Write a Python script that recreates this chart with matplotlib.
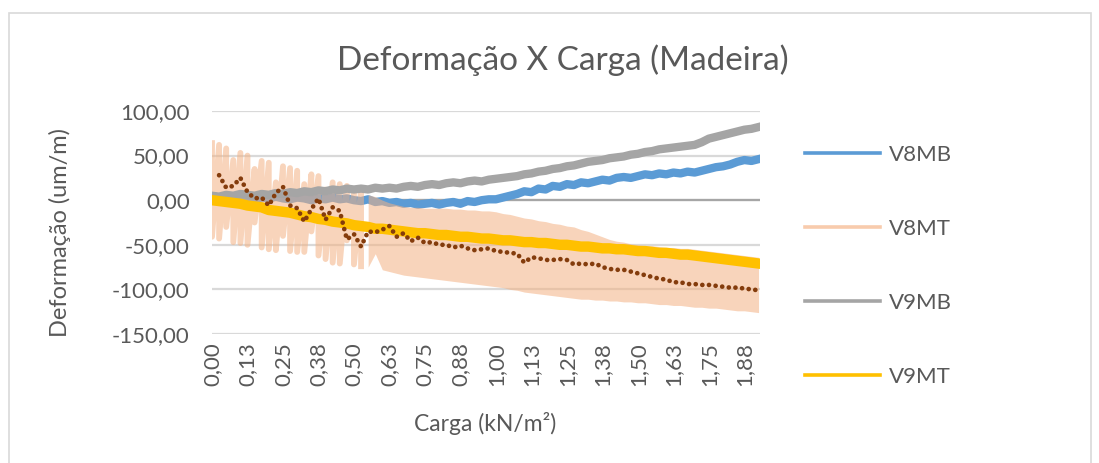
import numpy as np
import matplotlib
matplotlib.use("Agg")
import matplotlib.pyplot as plt
from matplotlib.lines import Line2D
from matplotlib.patches import Rectangle

plt.rcParams["font.family"] = ["Lato", "DejaVu Sans"]

# carga aplicada (kN/m²), passo de 0,025
carga = np.round(np.arange(0, 1.95, 0.025), 3)

v8mb = [4, 3, 5, 2, 4, 3, 1, 3, 2, 4, 2, 1, 3, 2, 0, 2, 1, 3, 1, 2,
        0, -1, 1, -2, -1, -3, -2, -4, -3, -5, -4, -3, -5, -3, -2, -4, -1, -2, 0, 1,
        1, 3, 5, 7, 10, 9, 13, 12, 16, 15, 18, 17, 20, 19, 21, 23, 22, 25, 26, 25,
        27, 29, 28, 30, 29, 31, 30, 32, 31, 33, 35, 37, 38, 40, 43, 45, 44, 46]

# V8MT oscila entre um valor alto e um baixo a cada leitura
v8mt_alto = [64, 62, 58, 45, 53, 50, 35, 44, 42, 20, 38, 36, 33, 18, 29, 27, 12, 20, 18, 16,
             8, 12, 6, 4, 0, -3, -5, -7, -8, -8, -9, -9, -9, -9, -10, -10, -11, -11, -12, -12,
             -13, -15, -16, -18, -20, -21, -23, -24, -26, -27, -29, -30, -33, -35, -38, -41, -44, -46, -47, -49,
             -50, -51, -51, -52, -53, -53, -54, -54, -55, -56, -57, -58, -59, -60, -61, -62, -63, -64]
v8mt_baixo = [-41, -43, -30, -47, -48, -50, -25, -53, -55, -56, -40, -57, -58, -58, -35, -62, -66, -70, -71, -45,
              -72, -74, -75, -60, -78, -80, -82, -84, -85, -86, -87, -88, -89, -90, -91, -92, -93, -94, -95, -96,
              -97, -98, -100, -101, -103, -104, -105, -106, -107, -108, -109, -110, -111, -111, -112, -112, -113, -113, -114, -114,
              -115, -115, -116, -117, -117, -118, -118, -119, -120, -120, -121, -121, -122, -123, -124, -124, -125, -126]

v9mb = [5, 4, 6, 5, 7, 6, 5, 7, 6, 8, 7, 9, 8, 10, 9, 11, 10, 12, 11, 13,
        12, 13, 12, 14, 13, 14, 13, 15, 16, 15, 17, 18, 17, 19, 20, 19, 21, 22, 21, 23,
        24, 25, 26, 27, 29, 30, 32, 33, 35, 36, 38, 39, 41, 43, 44, 45, 47, 48, 49, 51,
        52, 54, 55, 57, 58, 59, 60, 61, 62, 65, 69, 71, 73, 75, 77, 79, 80, 82]

v9mt = [0, -1, -2, -3, -4, -6, -7, -8, -11, -12, -13, -14, -16, -18, -19, -21, -22, -24, -25, -26,
        -28, -29, -30, -32, -32, -33, -34, -35, -36, -37, -37, -38, -39, -39, -40, -41, -41, -42, -43, -43,
        -44, -45, -45, -46, -47, -47, -48, -48, -49, -50, -50, -51, -52, -52, -53, -54, -54, -55, -55, -56,
        -57, -57, -58, -59, -59, -60, -61, -61, -62, -63, -64, -65, -66, -67, -68, -69, -70, -71]

# média móvel de V8MT
v8mt_media = [np.nan, 28, 14, 16, 25, 9, 2, 3, -6, 8, 15, -6, -9, -24, -10, 2, -22, -8, -12, -44,
              -38, -52, -35, -36, -33, -29, -41, -37, -46, -42, -48, -47, -50, -50, -53, -51, -54, -56, -55, -54,
              -57, -58, -59, -60, -70, -64, -65, -67, -67, -66, -67, -72, -71, -72, -71, -75, -77, -78, -78, -80,
              -82, -84, -86, -88, -89, -92, -92, -94, -94, -95, -95, -96, -97, -98, -98, -99, -100, -101]

series = ["V8MB", "V8MT", "V9MB", "V9MT"]
cores = ["#5B9BD5", "#F8CBAD", "#A5A5A5", "#FFC000"]
rotulos_x = ["0,00", "0,13", "0,25", "0,38", "0,50", "0,63", "0,75", "0,88",
             "1,00", "1,13", "1,25", "1,38", "1,50", "1,63", "1,75", "1,88"]
ticks_y = [100, 50, 0, -50, -100, -150]

texto = "#595959"
fig = plt.figure(figsize=(10.99, 4.63), dpi=100)
ax = fig.add_axes([0.1929, 0.2786, 0.4986, 0.4817])

alto = np.array(v8mt_alto, dtype=float)
baixo = np.array(v8mt_baixo, dtype=float)
pessego = "#F4B183"

ax.plot(carga, v8mb, color=cores[0], lw=6.0, zorder=2)

# trecho inicial em dentes de serra, trecho final preenchido
esparso = carga < 0.54
zx = np.repeat(carga[esparso], 2)
zy = np.column_stack([alto[esparso], baixo[esparso]]).ravel()
ax.plot(zx, zy, color=pessego, alpha=0.55, lw=4.2, zorder=3)
ax.fill_between(carga, baixo, alto, where=carga >= 0.55, color=pessego,
                alpha=0.55, lw=0, zorder=3)

ax.plot(carga, v9mb, color=cores[2], lw=6.0, zorder=4)
ax.plot(carga, v9mt, color=cores[3], lw=7.5, zorder=5)
ax.plot(carga, v8mt_media, color="#843C0C", lw=3.4, linestyle=(0, (0.01, 1.4)),
        dash_capstyle="round", zorder=6)

ax.axhline(0, color="#A6A6A6", lw=1.6, zorder=1.5)
ax.set_xlim(0, 1.93)
ax.set_ylim(-150, 100)
ax.set_yticks(ticks_y)
ax.set_yticklabels([f"{v:.2f}".replace(".", ",") for v in ticks_y])
ax.set_xticks(np.arange(len(rotulos_x)) * 0.125)
ax.set_xticklabels(rotulos_x, rotation=90, va="top", ha="center")
ax.yaxis.grid(True, color="#D9D9D9", lw=1.6)
ax.set_axisbelow(True)
for s in ax.spines.values():
    s.set_visible(False)
ax.tick_params(length=0, labelsize=16, labelcolor=texto, pad=6)
ax.tick_params(axis="y", pad=16)

ax.set_xlabel("Carga (kN/m²)", fontsize=16.5, color=texto)
ax.set_ylabel("Deformação (um/m)", fontsize=17, color=texto)
ax.xaxis.set_label_coords(0.498, -0.35)
ax.yaxis.set_label_coords(-0.257, 0.457)
fig.suptitle("Deformação X Carga (Madeira)", fontsize=24, color=texto,
             x=0.512, y=0.905)

handles = [Line2D([], [], color=c, lw=2.6) for c in cores]
ax.legend(handles, series, loc="upper left", bbox_to_anchor=(0.714, 0.730),
          bbox_transform=fig.transFigure, frameon=False, fontsize=16,
          labelcolor=texto, handlelength=3.4, handletextpad=0.4,
          labelspacing=2.43)

fig.patches.append(Rectangle((9 / 1099, -0.1), 1082 / 1099, (450 / 463) + 0.1,
                             transform=fig.transFigure, fill=False,
                             ec="#D9D9D9", lw=1.2))

fig.savefig("out.png", dpi=100)
